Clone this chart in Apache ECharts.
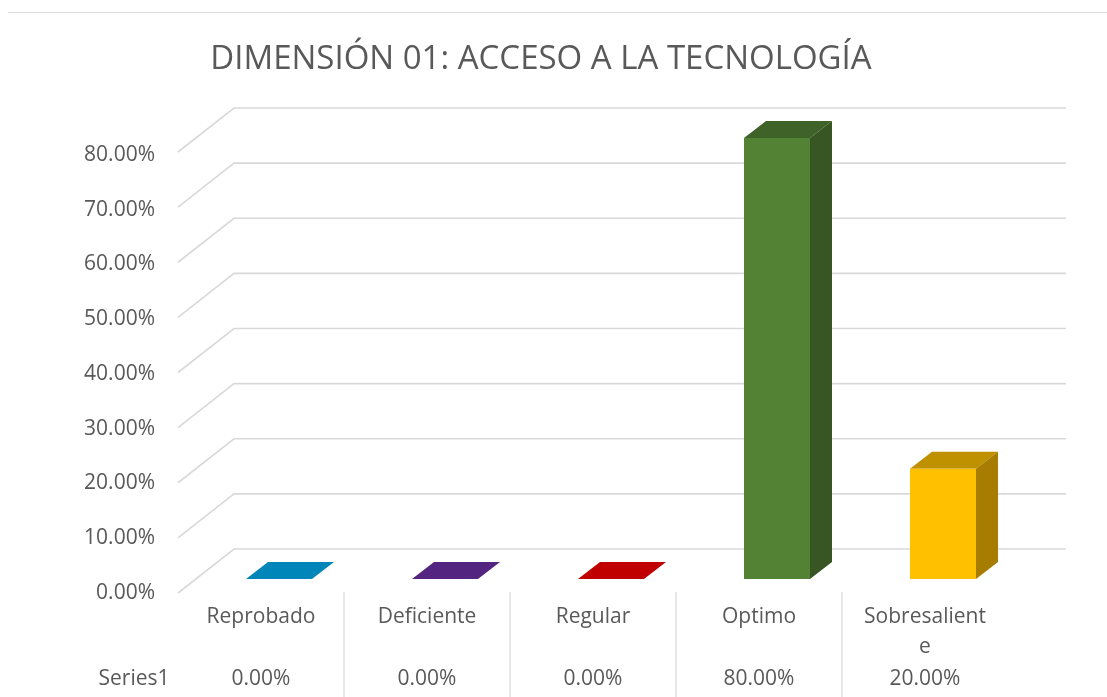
<!DOCTYPE html>
<html>
<head>
<meta charset="utf-8">
<style>html,body{margin:0;padding:0;background:#fff}#c{width:1107px;height:697px}</style>
<script src="https://cdn.jsdelivr.net/npm/echarts@6/dist/echarts.min.js"></script>
</head>
<body>
<div id="c"></div>
<script>
const titleText = 'DIMENSIÓN 01: ACCESO A LA TECNOLOGÍA';
const categories = ['Reprobado', 'Deficiente', 'Regular', 'Optimo', 'Sobresaliente'];
const seriesName = 'Series1';
const seriesValues = [0, 0, 0, 80, 20];
const yTicks = [0, 10, 20, 30, 40, 50, 60, 70, 80];
const frontColors = ['#00B0F0', '#7030A0', '#FF0000', '#548235', '#FFC000'];
const topColors = ['#0086B8', '#542580', '#C00000', '#3F6228', '#BF9000'];
const sideColors = ['#00729C', '#49206B', '#A60000', '#375623', '#A67D00'];

const pct = v => v.toFixed(2) + '%';
const TEXT = '#595959';
const FONT = '"Open Sans", "Noto Sans", sans-serif';
const LABEL_SIZE = 21;
const WALL_DX = 56, WALL_DY = -44, WALL_EXTRA = 2;
const BAR_DX = 18, BAR_DY = -14, BAR_W = 66, DEPTH_X = 22, DEPTH_Y = -17;
const GRID_COLOR = '#D9D9D9';

const chart = echarts.init(document.getElementById('c'), null, { renderer: 'canvas' });

function renderGrid(params, api) {
  const p = api.coord([0, api.value(0)]);
  const band = api.size([1, 0])[0];
  const x0 = p[0] - band / 2, y = p[1];
  const xEnd = x0 + band * categories.length + WALL_DX + WALL_EXTRA;
  return {
    type: 'polyline', silent: true,
    shape: { points: [[x0, y], [x0 + WALL_DX, y + WALL_DY], [xEnd, y + WALL_DY]] },
    style: { stroke: GRID_COLOR, lineWidth: 1.6, fill: 'none' }
  };
}

function renderSeparator(params, api) {
  const i = api.value(0);
  const band = api.size([1, 0])[0];
  const p = api.coord([i, 0]);
  const x = p[0] - band / 2;
  return {
    type: 'line', silent: true,
    shape: { x1: x, y1: p[1] - 1, x2: x, y2: 697 },
    style: { stroke: GRID_COLOR, lineWidth: 1.2 }
  };
}

function renderBar(params, api) {
  const i = api.value(0);
  const base = api.coord([i, 0]);
  const top = api.coord([i, api.value(1)]);
  const l = base[0] - BAR_W / 2 + BAR_DX, r = l + BAR_W;
  const yb = base[1] + BAR_DY, yt = top[1] + BAR_DY;
  const dx = DEPTH_X, dy = DEPTH_Y;
  const children = [{
    type: 'polygon',
    shape: { points: [[l, yt], [r, yt], [r + dx, yt + dy], [l + dx, yt + dy]] },
    style: { fill: topColors[i] }
  }];
  if (yb - yt > 0.5) {
    children.push({
      type: 'rect', shape: { x: l, y: yt, width: BAR_W, height: yb - yt },
      style: { fill: frontColors[i] }
    });
    children.push({
      type: 'polygon',
      shape: { points: [[r, yt], [r + dx, yt + dy], [r + dx, yb + dy], [r, yb]] },
      style: { fill: sideColors[i] }
    });
  }
  return { type: 'group', children };
}

chart.setOption({
  animation: false,
  backgroundColor: '#ffffff',
  title: {
    text: titleText, left: 536, top: 38, textAlign: 'center',
    textStyle: { color: TEXT, fontFamily: FONT, fontSize: 33, fontWeight: 'normal' }
  },
  grid: [
    { left: 178, width: 830, top: 152, height: 441 },
    { left: 178, width: 830, top: 155, height: 438 }
  ],
  xAxis: [{
    type: 'category', gridIndex: 0, data: categories, position: 'bottom',
    axisLine: { show: false }, axisTick: { show: false }, splitLine: { show: false },
    axisLabel: {
      color: TEXT, fontFamily: FONT, fontSize: LABEL_SIZE, margin: 9, lineHeight: 30,
      width: 130, overflow: 'breakAll', interval: 0, hideOverlap: false, verticalAlign: 'top'
    }
  }, {
    type: 'category', gridIndex: 1, data: seriesValues.map(pct), position: 'bottom',
    axisLine: { show: false }, axisTick: { show: false }, splitLine: { show: false },
    axisLabel: { color: TEXT, fontFamily: FONT, fontSize: LABEL_SIZE, margin: 76, interval: 0, verticalAlign: 'top' }
  }],
  yAxis: [{
    type: 'value', gridIndex: 0, min: 0, max: 80, interval: 10,
    axisLine: { show: false }, axisTick: { show: false }, splitLine: { show: false },
    axisLabel: { show: false }
  }, {
    type: 'value', gridIndex: 1, min: 0, max: 80, interval: 10,
    axisLine: { show: false }, axisTick: { show: false }, splitLine: { show: false },
    axisLabel: { color: TEXT, fontFamily: FONT, fontSize: LABEL_SIZE, margin: 23, formatter: v => pct(v) }
  }],
  graphic: [{
    type: 'line', silent: true,
    shape: { x1: 8, y1: 12.5, x2: 1107, y2: 12.5 },
    style: { stroke: GRID_COLOR, lineWidth: 1.2 }
  }, {
    type: 'text', silent: true, x: 134, y: 679,
    style: { text: seriesName, fill: TEXT, font: LABEL_SIZE + 'px ' + FONT, textAlign: 'center', textVerticalAlign: 'middle' }
  }],
  series: [{
    type: 'custom', name: 'grid', coordinateSystem: 'cartesian2d', xAxisIndex: 0, yAxisIndex: 0, clip: false, z: 1,
    renderItem: renderGrid, encode: { y: 0 }, data: yTicks.map(v => [v]), silent: true, tooltip: { show: false }
  }, {
    type: 'custom', name: 'sep', coordinateSystem: 'cartesian2d', xAxisIndex: 0, yAxisIndex: 0, clip: false, z: 1,
    renderItem: renderSeparator, encode: { x: 0 }, data: [1, 2, 3, 4].map(i => [i]), silent: true
  }, {
    type: 'custom', name: seriesName, coordinateSystem: 'cartesian2d', xAxisIndex: 0, yAxisIndex: 0, clip: false, z: 3,
    renderItem: renderBar, encode: { x: 0, y: 1 },
    data: seriesValues.map((v, i) => [i, v])
  }]
});
</script>
</body>
</html>
